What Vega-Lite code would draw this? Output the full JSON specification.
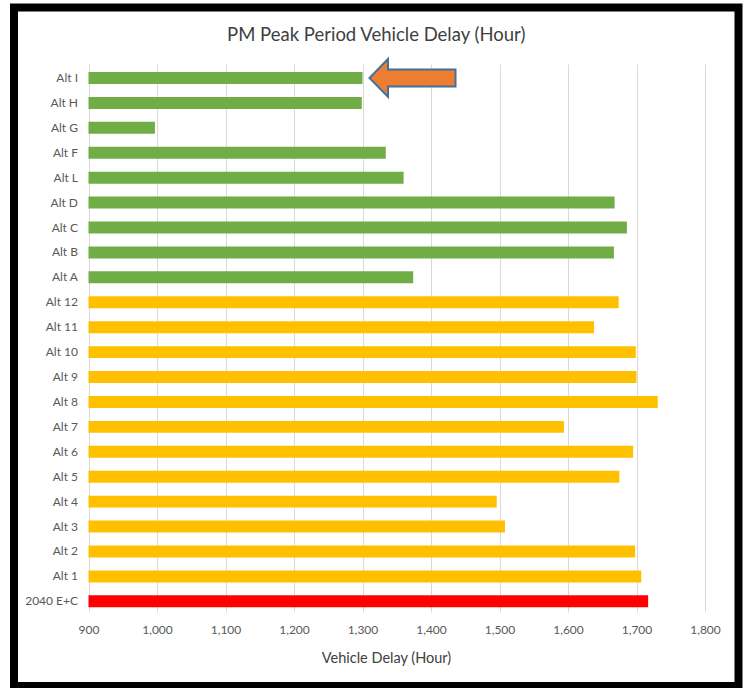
{
  "$schema": "https://vega.github.io/schema/vega-lite/v6.json",
  "autosize": {"type": "none"},
  "width": 724.5,
  "height": 678.5,
  "padding": {"left": 14, "top": 7.5, "right": 6.5, "bottom": 2},
  "background": "white",
  "config": {
    "view": {"stroke": "black", "strokeWidth": 8, "fill": "white"},
    "font": "Lato"
  },
  "title": {
    "text": "PM Peak Period Vehicle Delay (Hour)",
    "fontSize": 18.5,
    "fontWeight": "normal",
    "color": "#404040",
    "font": "Lato",
    "anchor": "middle",
    "baseline": "middle",
    "offset": -46
  },
  "data": {
    "values": [
      {"alt": "Alt I", "delay": 1300, "group": "Letter"},
      {"alt": "Alt H", "delay": 1299, "group": "Letter"},
      {"alt": "Alt G", "delay": 997, "group": "Letter"},
      {"alt": "Alt F", "delay": 1334, "group": "Letter"},
      {"alt": "Alt L", "delay": 1360, "group": "Letter"},
      {"alt": "Alt D", "delay": 1668, "group": "Letter"},
      {"alt": "Alt C", "delay": 1686, "group": "Letter"},
      {"alt": "Alt B", "delay": 1667, "group": "Letter"},
      {"alt": "Alt A", "delay": 1374, "group": "Letter"},
      {"alt": "Alt 12", "delay": 1674, "group": "Number"},
      {"alt": "Alt 11", "delay": 1638, "group": "Number"},
      {"alt": "Alt 10", "delay": 1699, "group": "Number"},
      {"alt": "Alt 9", "delay": 1700, "group": "Number"},
      {"alt": "Alt 8", "delay": 1731, "group": "Number"},
      {"alt": "Alt 7", "delay": 1594, "group": "Number"},
      {"alt": "Alt 6", "delay": 1695, "group": "Number"},
      {"alt": "Alt 5", "delay": 1675, "group": "Number"},
      {"alt": "Alt 4", "delay": 1496, "group": "Number"},
      {"alt": "Alt 3", "delay": 1508, "group": "Number"},
      {"alt": "Alt 2", "delay": 1698, "group": "Number"},
      {"alt": "Alt 1", "delay": 1707, "group": "Number"},
      {"alt": "2040 E+C", "delay": 1717, "group": "Base"}
    ]
  },
  "layer": [
    {
      "mark": {"type": "bar"},
      "encoding": {
        "y": {
          "field": "alt",
          "type": "nominal",
          "sort": null,
          "scale": {
            "domain": ["Alt I", "Alt H", "Alt G", "Alt F", "Alt L", "Alt D", "Alt C", "Alt B", "Alt A", "Alt 12", "Alt 11", "Alt 10", "Alt 9", "Alt 8", "Alt 7", "Alt 6", "Alt 5", "Alt 4", "Alt 3", "Alt 2", "Alt 1", "2040 E+C"],
            "range": [64.5, 599.8],
            "paddingInner": 0.52,
            "paddingOuter": 0,
            "round": false
          },
          "axis": {
            "orient": "left",
            "offset": -74.5,
            "domain": false,
            "ticks": false,
            "grid": false,
            "labelPadding": 11,
            "labelFontSize": 12,
            "labelColor": "#595959",
            "labelFont": "Lato",
            "title": null,
            "zindex": 0
          }
        },
        "x": {
          "field": "delay",
          "type": "quantitative",
          "scale": {"domain": [791.24, 1848.9], "nice": false, "zero": false},
          "axis": {
            "orient": "bottom",
            "values": [900, 1000, 1100, 1200, 1300, 1400, 1500, 1600, 1700, 1800],
            "format": ",d",
            "offset": -74,
            "domain": false,
            "grid": false,
            "ticks": true,
            "tickSize": -548,
            "tickColor": "#d9d9d9",
            "tickWidth": 1,
            "labelPadding": 560,
            "labelFontSize": 12,
            "labelColor": "#595959",
            "labelFont": "Lato",
            "title": "Vehicle Delay (Hour)",
            "titleFontSize": 14.5,
            "titleFontWeight": "normal",
            "titleColor": "#404040",
            "titleFont": "Lato",
            "titleBaseline": "middle",
            "titleX": 372,
            "titleY": 46,
            "zindex": 0
          }
        },
        "x2": {"datum": 900},
        "color": {
          "field": "group",
          "type": "nominal",
          "scale": {"domain": ["Letter", "Number", "Base"], "range": ["#70AD47", "#FFC000", "#FF0000"]},
          "legend": null
        }
      }
    },
    {
      "data": {"values": [{}]},
      "mark": {
        "type": "point",
        "shape": "M -1 0 L -0.57 -0.44 L -0.57 -0.2 L 1 -0.2 L 1 0.2 L -0.57 0.2 L -0.57 0.44 Z",
        "filled": true,
        "fill": "#ED7D31",
        "stroke": "#41719C",
        "strokeWidth": 2,
        "size": 7396,
        "opacity": 1
      },
      "encoding": {
        "x": {"datum": 1373, "type": "quantitative"},
        "y": {"datum": "Alt I", "type": "nominal"}
      }
    }
  ]
}
